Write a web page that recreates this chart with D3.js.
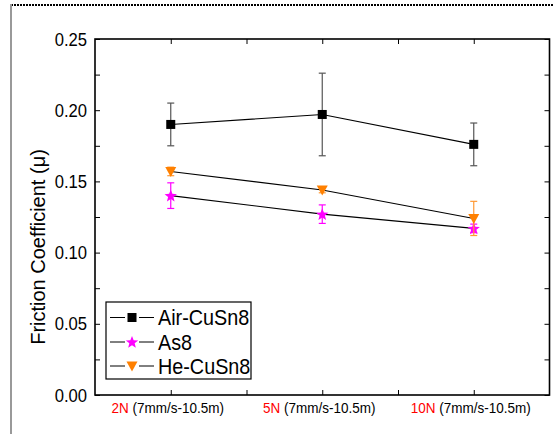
<!DOCTYPE html>
<html><head><meta charset="utf-8">
<script src="https://cdn.jsdelivr.net/npm/d3@7"></script>
<style>body{margin:0;background:#fff;}svg{display:block;font-family:"Liberation Sans",Arial,sans-serif;}</style>
</head><body>
<svg id="c" width="553" height="434"></svg>
<script>
const categories = ["2N", "5N", "10N"];
const catSuffix = " (7mm/s-10.5m)";
const seriesNames = ["Air-CuSn8", "As8", "He-CuSn8"];
const airValues = [0.190, 0.197, 0.176];
const airErrors = [0.015, 0.029, 0.015];
const as8Values = [0.140, 0.127, 0.117];
const as8Errors = [0.009, 0.0065, 0.003];
const heValues = [0.157, 0.144, 0.124];
const heErrors = [0.003, 0.002, 0.012];
const yTicks = [0.00, 0.05, 0.10, 0.15, 0.20, 0.25];
const yTitle = "Friction Coefficient (\u03bc)";

(function(){
const series = [
  {name: seriesNames[0], values: airValues, errors: airErrors, color: "#000", errColor: "#555", symbol: "square"},
  {name: seriesNames[1], values: as8Values, errors: as8Errors, color: "#ff00ff", errColor: "#ff00ff", symbol: "star"},
  {name: seriesNames[2], values: heValues, errors: heErrors, color: "#ff8000", errColor: "#ff9933", symbol: "tri"}
];
const SX = 0.9;

const svg = d3.select("#c");
const L = 95, R = 549.5, T = 39, B = 395;
const x = d3.scaleLinear().domain([0.5, 3.5]).range([L, R]);
const y = d3.scaleLinear().domain([0, 0.25]).range([B, T]);

// page frame
svg.append("line").attr("x1", 11).attr("x2", 553).attr("y1", 5).attr("y2", 5)
  .attr("stroke", "#000").attr("stroke-width", 2).attr("stroke-dasharray", "2,1");
svg.append("line").attr("x1", 11).attr("x2", 11).attr("y1", 4).attr("y2", 434)
  .attr("stroke", "#999").attr("stroke-width", 2);

// axes
const minorY = d3.range(0, 0.2501, 0.025);
const xt = [1, 1.5, 2, 2.5, 3];
const axL = d3.axisLeft(y).tickValues(minorY).tickSize(-5).tickFormat("");
const axR = d3.axisRight(y).tickValues(minorY).tickSize(-5).tickFormat("");
const axB = d3.axisBottom(x).tickValues(xt).tickSize(-5).tickFormat("");
const axT = d3.axisTop(x).tickValues(xt).tickSize(-5).tickFormat("");
function style(g){ g.select(".domain").remove(); g.selectAll("line").attr("stroke","#000").attr("stroke-width",1); }
svg.append("g").attr("transform", `translate(${L},0)`).call(axL).call(style);
svg.append("g").attr("transform", `translate(${R},0)`).call(axR).call(style);
svg.append("g").attr("transform", `translate(0,${B})`).call(axB).call(style);
svg.append("g").attr("transform", `translate(0,${T})`).call(axT).call(style);
svg.append("rect").attr("x", L).attr("y", T).attr("width", R - L).attr("height", B - T)
  .attr("fill", "none").attr("stroke", "#000").attr("stroke-width", 1.6);

function sText(parent, px, py, anchor, size) {
  return parent.append("g").attr("transform", `translate(${px},${py}) scale(${SX},1)`)
    .append("text").attr("text-anchor", anchor).attr("font-size", size).attr("fill", "#000");
}

// y tick labels
const ytg = svg.append("g");
yTicks.forEach(d => sText(ytg, L - 8, y(d), "end", 18.5).attr("dy", "0.36em").text(d.toFixed(2)));

// y title
svg.append("text").attr("transform", `translate(45,${(T + B) / 2 + 30}) rotate(-90)`)
  .attr("text-anchor", "middle").attr("font-size", 20).attr("fill", "#000").text(yTitle);

// x labels
const xg = svg.append("g");
categories.forEach((c, i) => {
  const t = sText(xg, x(i + 1) - 3, 413, "middle", 15);
  t.append("tspan").attr("fill", "#ff0000").text(c);
  t.append("tspan").attr("fill", "#000").text(catSuffix);
});

// symbols
const starPath = (() => {
  const pts = [];
  for (let i = 0; i < 10; i++) {
    const r = i % 2 === 0 ? 6.5 : 2.8;
    const a = -Math.PI / 2 + i * Math.PI / 5;
    pts.push([r * Math.cos(a), r * Math.sin(a)]);
  }
  return "M" + pts.map(p => p.join(",")).join("L") + "Z";
})();
function drawSymbol(g, s, cx, cy) {
  if (s.symbol === "square") {
    g.append("rect").attr("x", cx - 4.5).attr("y", cy - 4.5).attr("width", 9).attr("height", 9).attr("fill", s.color);
  } else if (s.symbol === "star") {
    g.append("path").attr("d", starPath).attr("transform", `translate(${cx},${cy + 0.5})`).attr("fill", s.color);
  } else {
    g.append("path").attr("d", "M-5.5,-4.5L5.5,-4.5L0,5.5Z").attr("transform", `translate(${cx},${cy})`).attr("fill", s.color);
  }
}

const line = d3.line().x((d, i) => x(i + 1)).y(d => y(d));
series.forEach(s => {
  svg.append("path").datum(s.values).attr("d", line).attr("fill", "none").attr("stroke", "#000").attr("stroke-width", 1.1);
});
series.forEach(s => {
  const g = svg.append("g");
  s.values.forEach((v, i) => {
    const cx = x(i + 1);
    const y1 = y(v + s.errors[i]), y2 = y(v - s.errors[i]);
    g.append("line").attr("x1", cx).attr("x2", cx).attr("y1", y1).attr("y2", y2).attr("stroke", s.errColor).attr("stroke-width", 1.2);
    [y1, y2].forEach(yy => g.append("line").attr("x1", cx - 3.5).attr("x2", cx + 3.5).attr("y1", yy).attr("y2", yy).attr("stroke", s.errColor).attr("stroke-width", 1.2));
  });
  s.values.forEach((v, i) => drawSymbol(g, s, x(i + 1), y(v)));
});

// legend
const lg = svg.append("g");
lg.append("rect").attr("x", 106).attr("y", 302).attr("width", 145).attr("height", 77)
  .attr("fill", "#fff").attr("stroke", "#000").attr("stroke-width", 1.2);
const ly = [317.5, 342, 366];
series.forEach((s, i) => {
  lg.append("line").attr("x1", 110).attr("x2", 125).attr("y1", ly[i]).attr("y2", ly[i]).attr("stroke", "#000");
  lg.append("line").attr("x1", 139).attr("x2", 154).attr("y1", ly[i]).attr("y2", ly[i]).attr("stroke", "#000");
  drawSymbol(lg, s, 132, ly[i]);
  sText(lg, 158, ly[i], "start", 22).attr("dy", "0.36em").text(s.name);
});
})();
</script>
</body></html>
